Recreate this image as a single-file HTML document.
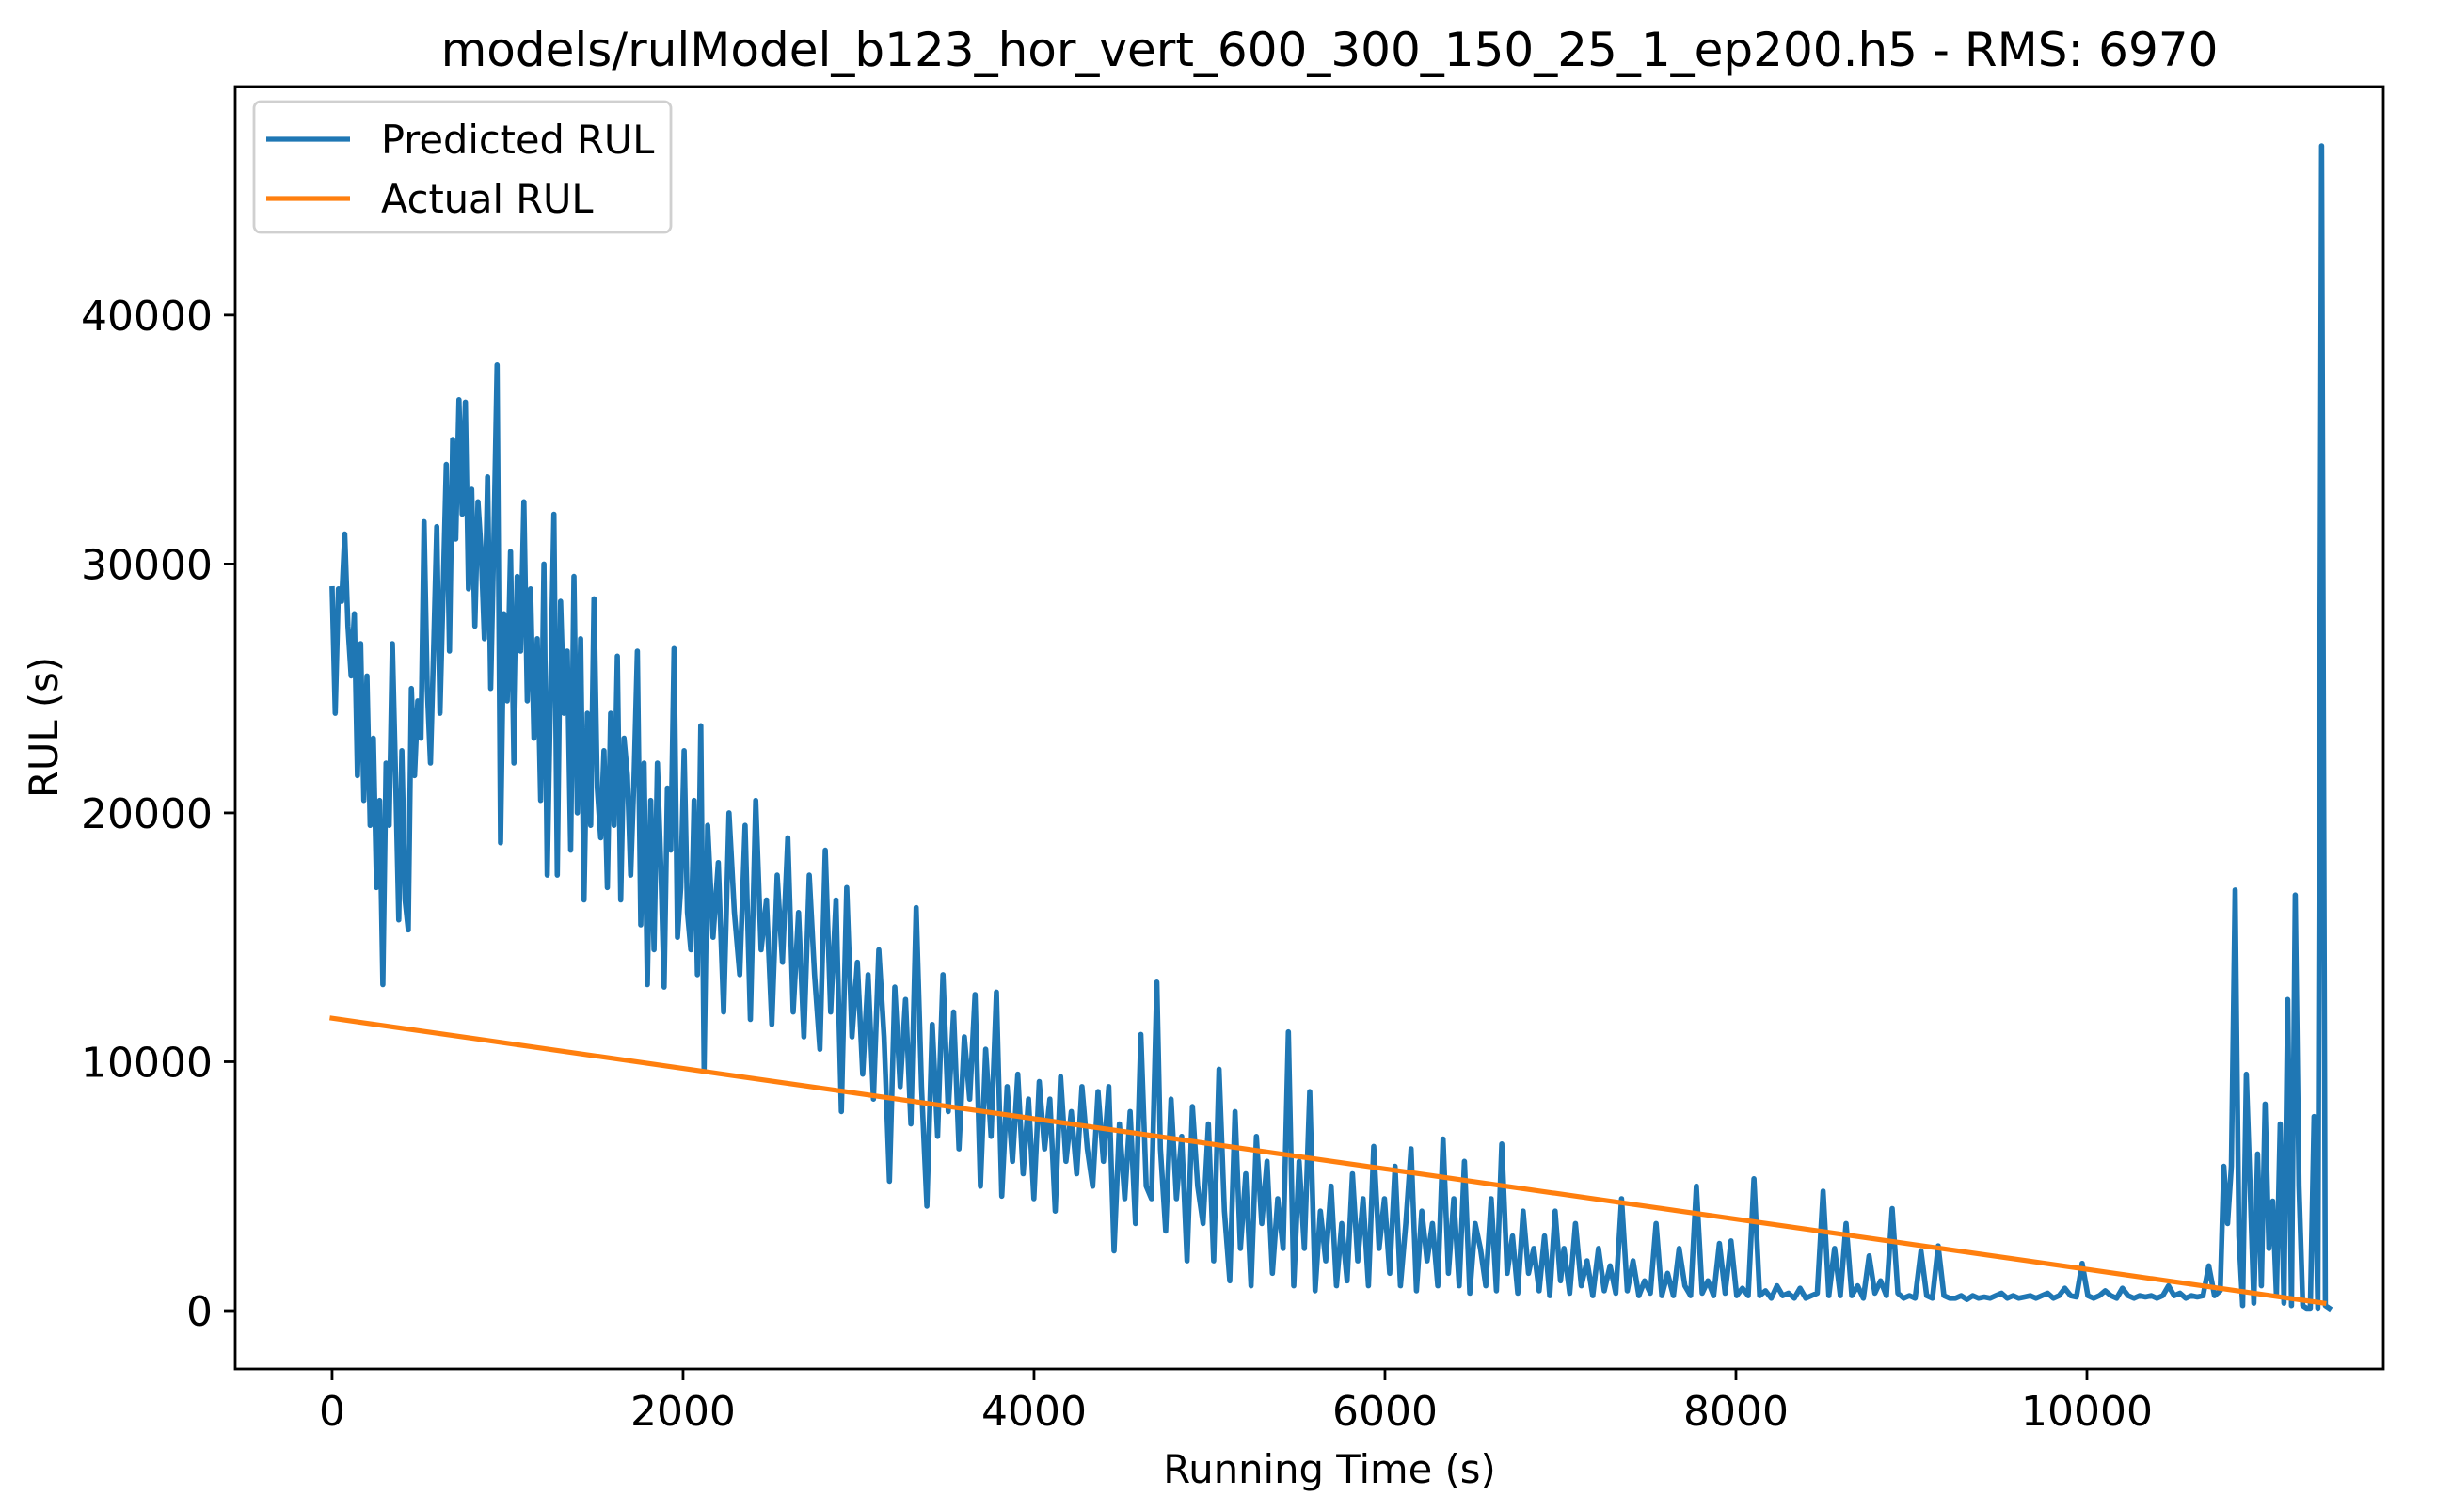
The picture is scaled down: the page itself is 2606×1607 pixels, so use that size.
<!DOCTYPE html>
<html><head><meta charset="utf-8"><style>
html,body{margin:0;padding:0;background:#fff;}
svg{display:block;font-family:"DejaVu Sans","Liberation Sans",sans-serif;}
</style></head><body>
<svg id="chart" width="2606" height="1607" viewBox="0 0 2606 1607" xmlns="http://www.w3.org/2000/svg">
<rect x="0" y="0" width="2606" height="1607" fill="#fff"/>
<text x="1413" y="70" font-size="50" text-anchor="middle" fill="#000">models/rulModel_b123_hor_vert_600_300_150_25_1_ep200.h5 - RMS: 6970</text>
<g id="plot"></g>
<g id="axes"></g>
<text x="1413" y="1576" font-size="41.7" text-anchor="middle" fill="#000">Running Time (s)</text>
<text x="0" y="0" font-size="41.7" text-anchor="middle" fill="#000" transform="translate(61,773) rotate(-90)">RUL (s)</text>
<g>
<rect x="270" y="108" width="443" height="139" rx="7" fill="#fff" fill-opacity="0.8" stroke="#d0d0d0" stroke-width="2.8"/>
<g>
<line x1="283" y1="148" x2="372" y2="148" stroke="#1f77b4" stroke-width="5.2"/>
<text x="405" y="163" font-size="41.5" fill="#000">Predicted RUL</text></g>
<g>
<line x1="283" y1="211" x2="372" y2="211" stroke="#ff7f0e" stroke-width="5.2"/>
<text x="405" y="226" font-size="41.5" fill="#000">Actual RUL</text></g>
</g>
</svg>
<script>
const xTicks=[0,2000,4000,6000,8000,10000];
const yTicks=[0,10000,20000,30000,40000];
const actualT=[0,11350];
const actualV=[11750,300];
const segTimes=[[0,940],[960,2120],[2140,4700],[4720,7000],[7020,10760],[10780,11380]];
const segA=[29000,24000,29000,28500,31200,27500,25500,28000,21500,26800,20500,25500,19500,23000,17000,20500,13100,22000,19500,26800,21500,15700,22500,16500,15300,25000,21500,24500,23000,31700,25000,22000,26500,31500,24000,29000,34000,26500,35000,31000,36600,32000,36500,29000,33000,27500,32500,30500,27000,33500,25000,31000,38000];
const segB=[18800,28000,24500,30500,22000,29500,26500,32500,24500,29000,23000,27000,20500,30000,17500,25000,32000,17500,28500,24000,26500,18500,29500,20000,27000,16500,24000,19500,28600,21000,19000,22500,17000,24000,19500,26300,16500,23000,21500,17500,21500,26500,15500,22000,13100,20500,14500,22000,18000,13000,21000,18500,26600,15000,17000,22500,16000,14500,20500,13500,23500,9700];
const segC=[19500,15000,18000,12000,20000,16000,13500,19500,11700,20500,14500,16500,11500,17500,14000,19000,12000,16000,11000,17500,13500,10500,18500,12000,16500,8000,17000,11000,14000,9500,13500,8500,14500,11000,5200,13000,9000,12500,7500,16200,9000,4200,11500,7000,13500,8000,12000,6500,11000,8500,12700,5000,10500,7000,12800,4600,9000,6000,9500,5500,8500,4500,9200,6500,8500,4000,9400,6000,8000,5500,9000,6500,5000,8800,6000,9000,2400,7500,4500,8000,3500,11100,5000,4500,13200];
const segD=[6500,3200,8500,4500,7000,2000,8200,5000,3500,7500,2000,9700,4000,1200,8000,2500,5500,1000,7000,3500,6000,1500,4500,2500,11200,1000,6000,2500,8800,800,4000,2000,5000,1000,3500,1200,5500,2000,4500,1000,6600,2500,4500,1500,5800,1000,3500,6500,800,4000,2000,3500,1000,6900,1500,4500,1000,6000,700,3500,2500,1000,4500,800,6700,1500,3000,700,4000,1500,2500,800,3000,600,4000,1200];
const segE=[2500,700,3500,1000,2000,600,2500,800,1800,700,4500,800,2000,600,1200,700,3500,600,1500,600,2500,1000,600,5000,700,1200,600,2700,700,2800,600,900,600,5300,600,800,500,1000,600,700,500,900,500,600,700,4800,600,2500,600,3500,600,1000,500,2200,700,1200,600,4100,700,500,600,500,2400,600,500,2600,600,500,500,600,450,600,500,550,500,600,700,500,600,500,550,600,500,600,700,500,600,900,600,550,1900,600,500,600,800,600,500,900,600,500,600,550,600,500,600,1000,600,700,500,600,550,600,1800,600,800];
const segF=[5800,3500,5800,16900,3000,200,9500,5000,300,6300,1000,8300,2500,4400,600,7500,300,12500,200,16700,5000,200,100,100,7800,100,46800,200,100];
const segVals=[segA,segB,segC,segD,segE,segF];

const X0=250,X1=2533,Y0=92,Y1=1455;
const xMin=-552,xMax=11689,yMin=-2343,yMax=49180;
const sx=v=>X0+(v-xMin)/(xMax-xMin)*(X1-X0);
const sy=v=>Y1-(v-yMin)/(yMax-yMin)*(Y1-Y0);
const NS='http://www.w3.org/2000/svg';
const plot=document.getElementById('plot');
const axes=document.getElementById('axes');

let pts=[];
segVals.forEach((vals,k)=>{
  const t0=segTimes[k][0],t1=segTimes[k][1];
  vals.forEach((v,i)=>{
    const t=vals.length>1?t0+(t1-t0)*i/(vals.length-1):t0;
    pts.push(sx(t).toFixed(1)+','+sy(v).toFixed(1));
  });
});
const pl=document.createElementNS(NS,'polyline');
pl.setAttribute('points',pts.join(' '));
pl.setAttribute('fill','none');pl.setAttribute('stroke','#1f77b4');pl.setAttribute('stroke-width','5.6');pl.setAttribute('stroke-linejoin','round');pl.setAttribute('stroke-linecap','square');


plot.appendChild(pl);

const al=document.createElementNS(NS,'polyline');
al.setAttribute('points',actualT.map((t,i)=>sx(t).toFixed(1)+','+sy(actualV[i]).toFixed(1)).join(' '));
al.setAttribute('fill','none');al.setAttribute('stroke','#ff7f0e');al.setAttribute('stroke-width','5.2');al.setAttribute('stroke-linecap','square');


plot.appendChild(al);

const frame=document.createElementNS(NS,'rect');
frame.setAttribute('x',X0);frame.setAttribute('y',Y0);frame.setAttribute('width',X1-X0);frame.setAttribute('height',Y1-Y0);
frame.setAttribute('fill','none');frame.setAttribute('stroke','#000');frame.setAttribute('stroke-width','2.8');


axes.appendChild(frame);

xTicks.forEach(v=>{
  const x=sx(v);
  const l=document.createElementNS(NS,'line');
  l.setAttribute('x1',x);l.setAttribute('x2',x);l.setAttribute('y1',Y1);l.setAttribute('y2',Y1+12);
  l.setAttribute('stroke','#000');l.setAttribute('stroke-width','2.8');
  
  
  axes.appendChild(l);
  const t=document.createElementNS(NS,'text');
  t.setAttribute('x',x);t.setAttribute('y',Y1+60);t.setAttribute('font-size','44');t.setAttribute('text-anchor','middle');
  t.textContent=String(v);
  
  
  axes.appendChild(t);
});
yTicks.forEach(v=>{
  const y=sy(v);
  const l=document.createElementNS(NS,'line');
  l.setAttribute('x1',X0-12);l.setAttribute('x2',X0);l.setAttribute('y1',y);l.setAttribute('y2',y);
  l.setAttribute('stroke','#000');l.setAttribute('stroke-width','2.8');
  
  
  axes.appendChild(l);
  const t=document.createElementNS(NS,'text');
  t.setAttribute('x',X0-24);t.setAttribute('y',y+16);t.setAttribute('font-size','44');t.setAttribute('text-anchor','end');
  t.textContent=String(v);
  
  
  axes.appendChild(t);
});
</script>
</body></html>
